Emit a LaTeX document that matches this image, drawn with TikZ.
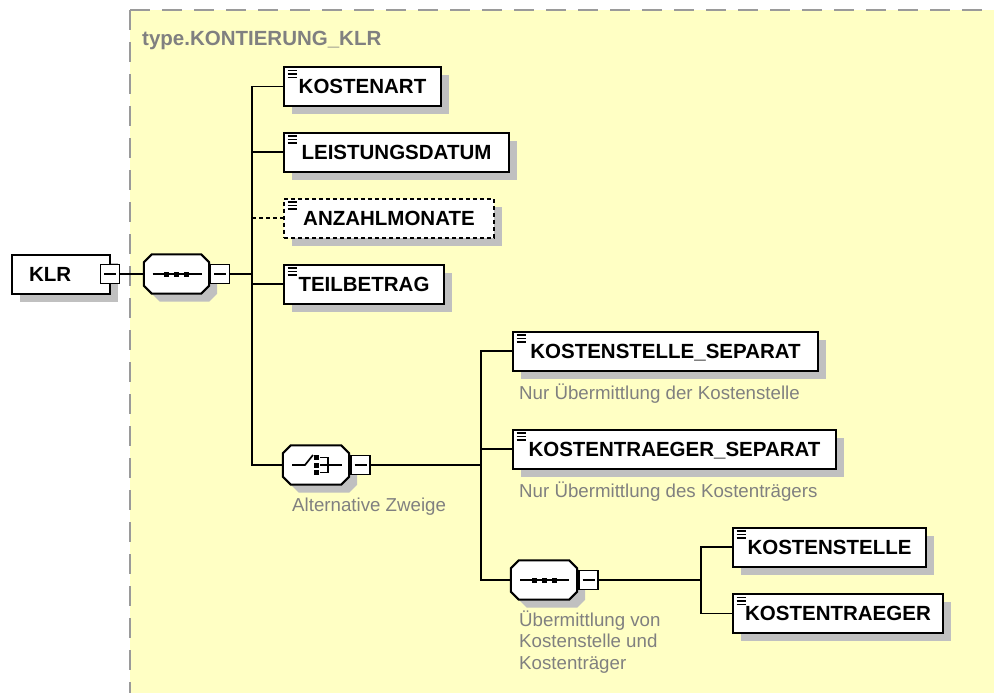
\documentclass[tikz,border=0pt]{standalone}
\usepackage{fontspec}
\setmainfont{Liberation Sans}
\usetikzlibrary{calc,shadows}

\definecolor{typebg}{HTML}{FFFFC4}
\definecolor{framegray}{HTML}{9A9A9A}
\definecolor{shadowgray}{HTML}{C0C0C0}
\definecolor{notegray}{HTML}{808080}

% octagon round an (invisible) compositor node
\newcommand{\octpath}[1]{([shift={(8,0)}]#1.north west) -- ([shift={(-8,0)}]#1.north east) -- ([shift={(0,8)}]#1.north east) -- ([shift={(0,-8)}]#1.south east) -- ([shift={(-8,0)}]#1.south east) -- ([shift={(8,0)}]#1.south west) -- ([shift={(0,-8)}]#1.south west) -- ([shift={(0,8)}]#1.north west) -- cycle}

\tikzset{
  frame/.style={framegray, line width=2pt, dash pattern=on 20pt off 12pt},
  typetitle/.style={anchor=west, inner sep=0pt, text=notegray, font=\bfseries\fontsize{20.5}{24}\selectfont},
  root/.style={draw, fill=white, line width=2pt, minimum height=39pt, inner xsep=17pt, text width=64pt, align=left,
    text height=14.7pt, text depth=0pt, font=\bfseries\fontsize{20.5}{24}\selectfont,
    drop shadow={shadow xshift=8pt, shadow yshift=-8pt, fill=shadowgray, opacity=1}},
  elem/.style={draw, fill=white, line width=2pt, minimum width=#1pt, minimum height=39pt, inner sep=0pt, anchor=west,
    text height=14.7pt, text depth=0pt, font=\bfseries\fontsize{20.5}{24}\selectfont,
    drop shadow={shadow xshift=8pt, shadow yshift=-8pt, fill=shadowgray, opacity=1},
    path picture={\foreach \d in {3.5,7,10.5} \draw[solid, line width=1.3pt] ([shift={(3.5,\d)}]path picture bounding box.north west) -- ++(9,0);}},
  optional/.style={dash pattern=on 4pt off 3pt},
  comp/.style={minimum width=#1pt, minimum height=39pt, inner sep=0pt},
  octline/.style={draw=black, fill=white, line width=2pt},
  minusbox/.style={draw, fill=white, line width=1.8pt, minimum size=19pt, inner sep=0pt,
    path picture={\draw[line width=1.5pt] ([xshift=3.5pt]path picture bounding box.west) -- ([xshift=-3.5pt]path picture bounding box.east);}},
  symline/.style={line width=1.7pt},
  note/.style={anchor=west, inner sep=0pt, align=left, text=notegray, font=\fontsize{18.7}{21.5}\selectfont},
  conn/.style={line width=1.9pt}
}

\begin{document}
\begin{tikzpicture}[x=1pt, y=-1pt]
\useasboundingbox (0,0) rectangle (994,693);
\fill[white] (0,0) rectangle (994,693);

% complex type area
\fill[typebg] (130,10) rectangle (994,693);
\draw[frame] (130,10) -- (994,10);
\draw[frame] (130,10) -- (130,693);
\node[typetitle] (typename) at (142,40) {type.KONTIERUNG\_KLR};

% root element
\node[root] (klr) at (61,274.5) {KLR};
\node[minusbox] (klrminus) at (110,274) {};

% sequence
\node[comp=65] (seqA) at (176.5,274) {};
\fill[shadowgray, transform canvas={shift={(8,8)}}] \octpath{seqA};
\filldraw[octline] \octpath{seqA};
\draw[symline] ([shift={(-24,0)}]seqA.center) -- ([shift={(25,0)}]seqA.center);
\foreach \dx in {-10,0,10}
  \fill ([shift={(\dx-2.5,-2.5)}]seqA.center) rectangle ([shift={(\dx+2.5,2.5)}]seqA.center);
\node[minusbox] (seqAminus) at (220,274) {};

\node[elem=157] (kostenart) at (283,86.5) {KOSTENART};
\node[elem=225] (leistungsdatum) at (283,152) {LEISTUNGSDATUM};
\node[elem=210, optional] (anzahlmonate) at (283,218) {ANZAHLMONATE};
\node[elem=160] (teilbetrag) at (283,284) {TEILBETRAG};

% choice
\node[comp=66] (choice) at (316,465) {};
\fill[shadowgray, transform canvas={shift={(8,8)}}] \octpath{choice};
\filldraw[octline] \octpath{choice};
\draw[symline] ([shift={(-24,0)}]choice.center) -- ([shift={(-11,0)}]choice.center) -- ([shift={(-3,-10)}]choice.center);
\foreach \dy in {-7.5,0,7.5}
  \fill ([shift={(-2,\dy-2.5)}]choice.center) rectangle ([shift={(3,\dy+2.5)}]choice.center);
\draw[symline] ([shift={(4,-7.5)}]choice.center) -| ([shift={(12,7.5)}]choice.center) -- ([shift={(4,7.5)}]choice.center);
\draw[symline] ([shift={(4,0)}]choice.center) -- ([shift={(26,0)}]choice.center);
\node[minusbox] (choiceminus) at (360.5,465) {};
\node[note] (choicenote) at (292,507) {Alternative Zweige};

\node[elem=305] (kss) at (512,351) {KOSTENSTELLE\_SEPARAT};
\node[note] (kssnote) at (519,394) {Nur Übermittlung der Kostenstelle};
\node[elem=323] (kts) at (512,449) {KOSTENTRAEGER\_SEPARAT};
\node[note] (ktsnote) at (519,492) {Nur Übermittlung des Kostenträgers};

% inner sequence
\node[comp=66] (seqB) at (544,580) {};
\fill[shadowgray, transform canvas={shift={(8,8)}}] \octpath{seqB};
\filldraw[octline] \octpath{seqB};
\draw[symline] ([shift={(-24,0)}]seqB.center) -- ([shift={(25,0)}]seqB.center);
\foreach \dx in {-10,0,10}
  \fill ([shift={(\dx-2.5,-2.5)}]seqB.center) rectangle ([shift={(\dx+2.5,2.5)}]seqB.center);
\node[minusbox] (seqBminus) at (588.5,580) {};
\node[note] (seqBnote) at (519,642) {Übermittlung von\\Kostenstelle und\\Kostenträger};

\node[elem=193] (ks) at (732,547) {KOSTENSTELLE};
\node[elem=210] (kt) at (732,613.5) {KOSTENTRAEGER};

% connectors
\coordinate (trunkA) at (252,274);
\coordinate (trunkB) at (481,465);
\coordinate (trunkC) at (701,580);
\draw[conn] (klrminus) -- (seqA);
\draw[conn] (seqAminus) -- (trunkA);
\draw[conn] (trunkA) |- (kostenart);
\draw[conn] (trunkA) |- (leistungsdatum);
\draw[conn, optional] (trunkA) |- (anzahlmonate);
\draw[conn] (trunkA) |- (teilbetrag);
\draw[conn] (trunkA) |- (choice);
\draw[conn] (choiceminus) -- (trunkB);
\draw[conn] (trunkB) |- (kss);
\draw[conn] (trunkB) |- (kts);
\draw[conn] (trunkB) |- (seqB);
\draw[conn] (seqBminus) -- (trunkC);
\draw[conn] (trunkC) |- (ks);
\draw[conn] (trunkC) |- (kt);
\end{tikzpicture}
\end{document}
